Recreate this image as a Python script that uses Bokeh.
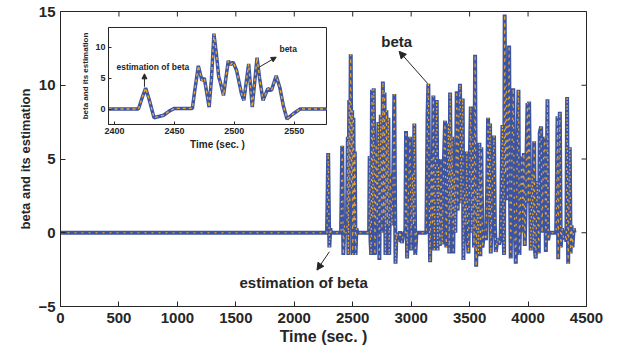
import math
from bokeh.plotting import figure
from bokeh.models import Range1d, LinearAxis, FixedTicker, Arrow, NormalHead, Label
from bokeh.embed import file_html
from bokeh.resources import INLINE

# ---------------- data ----------------
time_main = ([0, 2280]
             + [2290, 2300, 2308, 2315]
             + [2400, 2410, 2420, 2428, 2435]
             + [2450, 2458, 2463, 2470, 2476, 2483, 2490, 2495, 2500, 2506, 2512, 2518, 2524, 2532, 2540]
             + [2640]
             + [2645, 2652, 2658, 2665, 2672, 2680, 2690, 2700, 2710, 2720, 2728, 2740, 2750, 2758,
                2765, 2772, 2780, 2788, 2796, 2805, 2812, 2822, 2835, 2845, 2856, 2866, 2875]
             + [2890, 2905, 2920, 2935]
             + [2950, 2956, 2965, 2978, 2990, 3000, 3010, 3020, 3027, 3035, 3045]
             + [3130]
             + [3140, 3147, 3155, 3162, 3172, 3182, 3190, 3198, 3208, 3219, 3226, 3235, 3245, 3255, 3265, 3275]
             + [3290, 3300, 3310, 3319, 3326, 3333, 3342, 3350, 3360, 3368, 3378, 3390, 3398, 3408, 3418,
                3426, 3434, 3441, 3447, 3458, 3468, 3476, 3484, 3490, 3500, 3510, 3518, 3528, 3538, 3547,
                3556, 3566, 3575, 3584, 3592]
             + [3600, 3610, 3624, 3640, 3650, 3658, 3666, 3675, 3681, 3695, 3709, 3716, 3724, 3738, 3752,
                3766, 3781, 3788, 3795, 3800, 3808, 3816, 3824, 3838, 3845, 3852, 3862, 3873, 3884, 3895,
                3905, 3918, 3926, 3938, 3947, 3955, 3964, 3972, 3982, 3995, 4002, 4009, 4023, 4035, 4045,
                4052, 4060]
             + [4066, 4078, 4092, 4100, 4112, 4120, 4132, 4143, 4152, 4160, 4166, 4172, 4180, 4240, 4246,
                4252, 4258, 4265, 4272, 4280, 4290, 4305, 4320, 4328, 4334, 4343, 4350, 4357, 4364, 4372,
                4380, 4390, 4398])

beta_main = ([0, 0]
             + [5.4, -1.0, 0.3, 0]
             + [0, 5.9, -1.5, 0.5, 0]
             + [0, 6.5, -1.5, 9.0, 2.0, 12.1, 3.0, 8.3, -1.5, 7.8, 0.5, 5.5, -1.5, 0.3, 0]
             + [0]
             + [5.2, -0.5, -1.5, 9.7, 1.0, 9.8, -1.5, 6.0, 0.5, 7.5, -1.85, 8.0, 0.0, 10.25,
                1.0, 9.5, -1.5, 8.3, 0.5, 7.8, -1.5, 4.0, 0.5, 3.0, 9.4, -2.1, 0.0]
             + [-0.6, 0.1, -0.7, 0.0]
             + [0, 6.9, -1.75, 3.0, 6.5, -1.2, 4.0, 0.5, 7.4, -1.5, 0]
             + [0]
             + [8.0, 10.1, 2.0, -2.0, 5.0, 0.5, 9.3, -1.2, 5.0, 9.0, -1.2, 4.5, -0.9, 5.0, -0.8, 3.5]
             + [7.6, -1.0, 3.5, 7.4, -1.4, 9.5, 1.0, 6.5, -1.4, 4.0, 0.0, 9.6, 1.5, 8.0, 10.1,
                2.0, 7.5, 9.1, -1.85, 3.0, 0.5, 5.5, -0.5, -1.4, 4.0, 8.55, 0.0, 6.5, -1.0, 12.06,
                -2.3, 3.0, -1.5, 6.1, -1.6]
             + [5.8, -1.0, 0.2, -0.5, 3.0, 7.8, 1.0, 7.4, -1.4, 3.5, 6.6, 0.5, -1.3, -0.4, -0.8,
                -0.3, 7.3, 0.5, -1.5, 14.8, 4.0, 10.0, 2.2, 12.7, 3.0, -1.75, 5.0, 9.8, 1.0, -2.1,
                4.0, 9.7, -1.5, 3.0, 5.2, 0.0, 5.4, -0.9, 3.0, 8.8, 2.0, 8.9, -1.2, 4.0, -1.0,
                6.2, -1.3]
             + [-1.75, 3.5, -1.4, 6.8, 7.2, 0.0, 5.0, 6.5, -1.3, 4.0, 9.05, -0.5, 0.0, 0.0, 3.0,
                7.9, -1.8, 5.0, 8.2, -1.0, 0.3, -0.4, -0.2, -0.6, 9.2, -2.1, 2.0, 5.8, -1.4, 0.5,
                -1.0, 0.3, 0.0])
est_main = list(beta_main)

time_zoom = [2395, 2420, 2423, 2426, 2429, 2433, 2437, 2441, 2446, 2450, 2465, 2467, 2470, 2473, 2475,
             2479, 2481, 2483, 2485, 2487, 2488, 2491, 2495, 2497, 2499, 2502, 2506, 2508, 2512, 2515,
             2519, 2521, 2524, 2528, 2531, 2535, 2538, 2541, 2544, 2549, 2555, 2577]
beta_zoom = [0, 0, 1.8, 3.4, 1.5, -1.4, -1.2, -1.0, -0.3, 0.1, 0.1, 3.0, 7.0, 4.6, 5.0,
             0.3, 5.0, 12.2, 9.0, 5.2, 4.6, 2.2, 7.8, 7.2, 7.6, 6.2, 2.5, 1.4, 7.3, 0.3,
             8.3, 5.2, 1.4, 3.3, 3.0, 5.4, 3.5, 0.5, -1.6, -0.8, 0, 0]
est_zoom = list(beta_zoom)

x_ticks_main = [0, 500, 1000, 1500, 2000, 2500, 3000, 3500, 4000, 4500]
y_ticks_main = [-5, 0, 5, 10, 15]
x_ticks_zoom = [2400, 2450, 2500, 2550]
y_ticks_zoom = [0, 5, 10]
zoom_x_lim = (2395, 2577)
zoom_y_lim = (-2.5, 13.2)

ann_main_text = ["beta", "estimation of beta"]
ann_main_x = [2876, 2080]
ann_main_y = [12.97, -3.4]
arr_main_start = [(3143, 10.1), (2300, -1.29)]
arr_main_end = [(2897, 12.3), (2194, -2.53)]

ann_zoom_text = ["estimation of beta", "beta"]
ann_zoom_x = [2432, 2545]
ann_zoom_y = [6.77, 9.73]
arr_zoom_start = [(2425, 3.6), (2521, 6.8)]
arr_zoom_end = [(2425, 5.7), (2535, 8.4)]

# ---------------- style ----------------
BLUE = "#3B54A4"
ORANGE = "#EBA72C"
AX = "#262626"
FONT = "Liberation Sans"

# inset placement as fractions of the main frame
INSET_L, INSET_R = 0.0913, 0.5057
INSET_B, INSET_T = 0.617, 0.9458

p = figure(width=619, height=349, x_range=Range1d(0, 4500), y_range=Range1d(-5, 15),
           output_backend="svg", toolbar_location=None,
           min_border_left=60, min_border_right=33, min_border_top=11, min_border_bottom=43)
p.grid.visible = False
p.outline_line_color = AX
p.outline_line_width = 1

xs = (zoom_x_lim[1] - zoom_x_lim[0]) / (INSET_R - INSET_L)
x0 = zoom_x_lim[0] - INSET_L * xs
ys = (zoom_y_lim[1] - zoom_y_lim[0]) / (INSET_T - INSET_B)
y0 = zoom_y_lim[0] - INSET_B * ys
p.extra_x_ranges = {"ix": Range1d(x0, x0 + xs)}
p.extra_y_ranges = {"iy": Range1d(y0, y0 + ys)}


def style_axis(ax, ticks, size, tick_len):
    ax.ticker = FixedTicker(ticks=ticks)
    ax.minor_tick_line_color = None
    ax.major_tick_in = tick_len
    ax.major_tick_out = 0
    ax.axis_line_color = AX
    ax.major_tick_line_color = AX
    ax.major_label_text_font = FONT
    ax.major_label_text_font_style = "bold"
    ax.major_label_text_color = AX
    ax.major_label_text_font_size = size
    ax.axis_label_text_font = FONT
    ax.axis_label_text_font_style = "bold"
    ax.axis_label_text_color = AX


xa = p.xaxis[0]
style_axis(xa, x_ticks_main, "15px", 5)
xa.axis_label = "Time (sec. )"
xa.axis_label_text_font_size = "16px"
xa.major_label_standoff = 6
xa.axis_label_standoff = 2

ya = p.yaxis[0]
style_axis(ya, y_ticks_main, "15px", 5)
ya.axis_label = "beta and its estimation"
ya.axis_label_text_font_size = "13px"
ya.major_label_standoff = 5
ya.axis_label_standoff = 2

# mirrored tick marks on top and right edges (half of each dash is clipped by the frame)
p.scatter(x_ticks_main, [y_ticks_main[-1]] * len(x_ticks_main), marker="dash", angle=math.pi / 2,
          size=10, line_color=AX, line_width=1)
p.scatter([x_ticks_main[-1]] * len(y_ticks_main), y_ticks_main, marker="dash",
          size=10, line_color=AX, line_width=1)

# main curves
p.line(time_main, beta_main, line_color=BLUE, line_width=4)
p.line(time_main, est_main, line_color=ORANGE, line_width=1.2, line_dash="2 5")

# inset background and curves
p.quad(left=[zoom_x_lim[0]], right=[zoom_x_lim[1]], bottom=[zoom_y_lim[0]], top=[zoom_y_lim[1]],
       fill_color="white", line_color=AX, line_width=1, x_range_name="ix", y_range_name="iy")
p.line(time_zoom, beta_zoom, line_color=BLUE, line_width=3.5, x_range_name="ix", y_range_name="iy")
p.line(time_zoom, est_zoom, line_color=ORANGE, line_width=1.4, line_dash="3 3",
       x_range_name="ix", y_range_name="iy")

ixa = LinearAxis(x_range_name="ix", y_range_name="iy", fixed_location=zoom_y_lim[0], bounds=zoom_x_lim)
style_axis(ixa, x_ticks_zoom, "9px", 3)
ixa.axis_label = "Time (sec. )"
ixa.axis_label_text_font_size = "10px"
ixa.major_label_standoff = 4
ixa.axis_label_standoff = 1
p.add_layout(ixa, "below")

iya = LinearAxis(x_range_name="ix", y_range_name="iy", fixed_location=zoom_x_lim[0], bounds=zoom_y_lim)
style_axis(iya, y_ticks_zoom, "9px", 3)
iya.axis_label = "beta and its estimation"
iya.axis_label_text_font_size = "8px"
iya.major_label_standoff = 3
iya.axis_label_standoff = 2
p.add_layout(iya, "left")

# annotations
for txt, x, y in zip(ann_main_text, ann_main_x, ann_main_y):
    p.add_layout(Label(x=x, y=y, text=txt, text_align="center", text_baseline="middle",
                       text_font=FONT, text_font_style="bold", text_font_size="15px", text_color=AX))
for (xs_, ys_), (xe, ye) in zip(arr_main_start, arr_main_end):
    p.add_layout(Arrow(end=NormalHead(size=7, fill_color=AX, line_color=AX), x_start=xs_, y_start=ys_,
                       x_end=xe, y_end=ye, line_color=AX, line_width=1))

for txt, x, y in zip(ann_zoom_text, ann_zoom_x, ann_zoom_y):
    p.add_layout(Label(x=x, y=y, text=txt, text_align="center", text_baseline="middle",
                       text_font=FONT, text_font_style="bold", text_font_size="8.5px", text_color=AX,
                       x_range_name="ix", y_range_name="iy"))
for (xs_, ys_), (xe, ye) in zip(arr_zoom_start, arr_zoom_end):
    p.add_layout(Arrow(end=NormalHead(size=5, fill_color=AX, line_color=AX), x_start=xs_, y_start=ys_,
                       x_end=xe, y_end=ye, line_color=AX, line_width=1,
                       x_range_name="ix", y_range_name="iy"))

open("out.html", "w").write(file_html(p, INLINE))
